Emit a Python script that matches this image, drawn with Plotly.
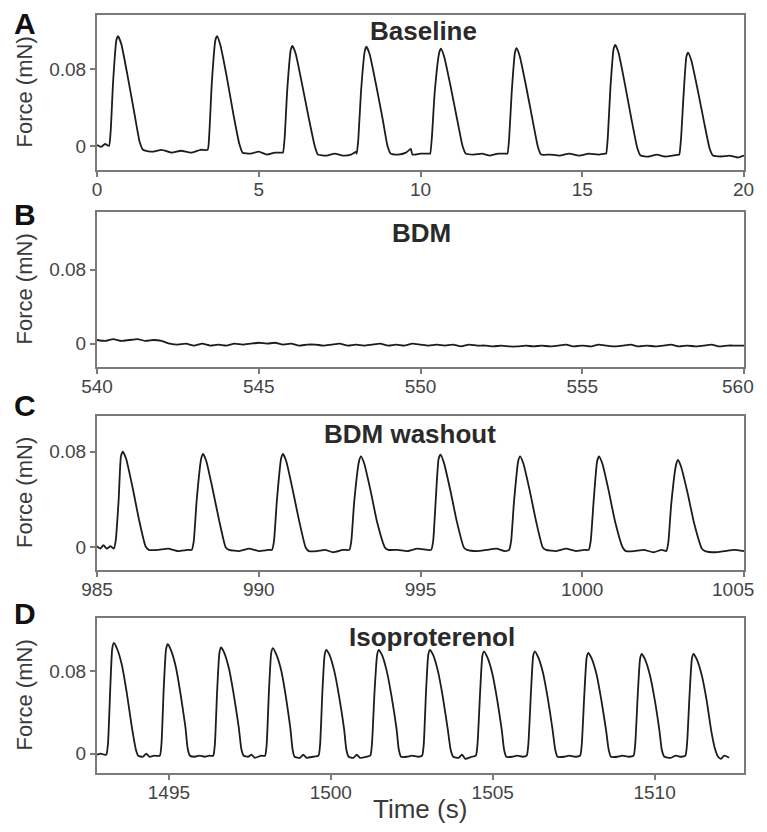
import plotly.graph_objects as go

# ================= Data (time in s, force in mN) =================
# Panel A - Baseline
a_pts = [
    (0.00, 0.001), (0.12, -0.001), (0.25, 0.002),
    (0.37, 0.000), (0.42, 0.014), (0.50, 0.068), (0.60, 0.110), (0.65, 0.114), (0.75, 0.106), (0.95, 0.072), (1.15, 0.035), (1.32, 0.004), (1.42, -0.004),
    (1.70, -0.006), (2.00, -0.004), (2.30, -0.007), (2.60, -0.005), (2.90, -0.007), (3.20, -0.004),
    (3.42, -0.004), (3.47, 0.012), (3.55, 0.066), (3.66, 0.110), (3.71, 0.114), (3.81, 0.105), (4.01, 0.072), (4.21, 0.034), (4.40, 0.002), (4.50, -0.007),
    (4.75, -0.008), (5.00, -0.006), (5.25, -0.009), (5.50, -0.007), (5.73, -0.007),
    (5.75, -0.007), (5.80, 0.008), (5.88, 0.058), (5.99, 0.100), (6.04, 0.104), (6.14, 0.096), (6.34, 0.064), (6.54, 0.030), (6.73, 0.000), (6.83, -0.009),
    (7.10, -0.010), (7.35, -0.008), (7.60, -0.010), (7.85, -0.009), (8.01, -0.006),
    (8.03, -0.008), (8.08, 0.008), (8.16, 0.056), (8.28, 0.099), (8.33, 0.103), (8.43, 0.095), (8.63, 0.063), (8.83, 0.028), (8.98, 0.000), (9.08, -0.008),
    (9.30, -0.009), (9.55, -0.007), (9.70, -0.003), (9.75, -0.009), (10.00, -0.008), (10.28, -0.008),
    (10.30, -0.008), (10.35, 0.008), (10.44, 0.056), (10.58, 0.097), (10.63, 0.101), (10.73, 0.093), (10.93, 0.062), (11.13, 0.028), (11.30, 0.000), (11.40, -0.008),
    (11.65, -0.009), (11.90, -0.008), (12.15, -0.010), (12.40, -0.008), (12.67, -0.008),
    (12.69, -0.008), (12.74, 0.008), (12.82, 0.056), (12.92, 0.097), (12.97, 0.1015), (13.07, 0.093), (13.27, 0.061), (13.47, 0.026), (13.63, -0.001), (13.73, -0.009),
    (14.00, -0.009), (14.30, -0.010), (14.60, -0.008), (14.90, -0.010), (15.20, -0.008), (15.50, -0.009), (15.72, -0.008),
    (15.74, -0.008), (15.79, 0.009), (15.87, 0.060), (15.97, 0.101), (16.02, 0.105), (16.12, 0.097), (16.32, 0.064), (16.52, 0.028), (16.70, -0.002), (16.80, -0.010),
    (17.05, -0.011), (17.30, -0.009), (17.55, -0.011), (17.80, -0.010), (17.98, -0.009),
    (18.00, -0.009), (18.05, 0.006), (18.13, 0.052), (18.22, 0.093), (18.27, 0.097), (18.37, 0.089), (18.57, 0.058), (18.77, 0.024), (18.94, -0.003), (19.04, -0.010),
    (19.30, -0.011), (19.55, -0.010), (19.80, -0.012), (20.00, -0.010),
]

# Panel B - BDM (flat, noisy)
b_time = [
    540.0, 540.25, 540.5, 540.75, 541.0, 541.25, 541.5, 541.75, 542.0, 542.25,
    542.5, 542.75, 543.0, 543.25, 543.5, 543.75, 544.0, 544.25, 544.5, 544.75,
    545.0, 545.25, 545.5, 545.75, 546.0, 546.25, 546.5, 546.75, 547.0, 547.25,
    547.5, 547.75, 548.0, 548.25, 548.5, 548.75, 549.0, 549.25, 549.5, 549.75,
    550.0, 550.25, 550.5, 550.75, 551.0, 551.25, 551.5, 551.75, 552.0, 552.25,
    552.5, 552.75, 553.0, 553.25, 553.5, 553.75, 554.0, 554.25, 554.5, 554.75,
    555.0, 555.25, 555.5, 555.75, 556.0, 556.25, 556.5, 556.75, 557.0, 557.25,
    557.5, 557.75, 558.0, 558.25, 558.5, 558.75, 559.0, 559.25, 559.5, 559.75,
    560.0,
]
b_force = [
    0.004, 0.003, 0.005, 0.003, 0.004, 0.005, 0.003, 0.004, 0.003, 0.000,
    -0.001, 0.000, -0.002, 0.000, -0.002, -0.001, -0.002, 0.000, -0.001, 0.000,
    0.001, 0.000, 0.001, -0.001, 0.000, -0.002, -0.001, -0.001, -0.002, -0.001,
    0.000, -0.002, -0.001, -0.002, -0.001, 0.000, -0.002, -0.001, -0.002, 0.000,
    -0.001, -0.002, -0.001, -0.002, -0.001, -0.003, -0.001, -0.002, -0.002, -0.003,
    -0.002, -0.003, -0.003, -0.002, -0.003, -0.002, -0.003, -0.002, -0.001, -0.003,
    -0.002, -0.003, -0.001, -0.002, -0.003, -0.002, -0.001, -0.003, -0.002, -0.003,
    -0.002, -0.001, -0.003, -0.002, -0.003, -0.002, -0.001, -0.003, -0.002, -0.002,
    -0.002,
]

# Panel C - BDM washout
c_pts = [
    (985.00, 0.001), (985.10, -0.001), (985.20, 0.002), (985.30, -0.001), (985.42, 0.001),
    (985.52, -0.001), (985.58, 0.006), (985.67, 0.040), (985.74, 0.076), (985.80, 0.080), (985.90, 0.074), (986.10, 0.050), (986.30, 0.023), (986.50, 0.001), (986.60, -0.002),
    (986.90, -0.002), (987.20, -0.001), (987.50, -0.003), (987.80, -0.002),
    (987.93, -0.002), (987.99, 0.005), (988.08, 0.039), (988.22, 0.074), (988.28, 0.078), (988.38, 0.072), (988.58, 0.048), (988.78, 0.022), (988.98, 0.000), (989.08, -0.002),
    (989.40, -0.003), (989.70, -0.001), (990.00, -0.003), (990.30, -0.002),
    (990.41, -0.002), (990.47, 0.005), (990.56, 0.039), (990.69, 0.074), (990.75, 0.078), (990.85, 0.072), (991.05, 0.048), (991.25, 0.022), (991.45, 0.000), (991.55, -0.003),
    (991.80, -0.003), (992.05, -0.002), (992.30, -0.004), (992.60, -0.002),
    (992.80, -0.002), (992.86, 0.005), (992.95, 0.038), (993.10, 0.072), (993.16, 0.076), (993.26, 0.070), (993.46, 0.047), (993.66, 0.021), (993.90, 0.000), (994.00, -0.002),
    (994.30, -0.002), (994.60, -0.003), (994.90, -0.001), (995.20, -0.002),
    (995.33, -0.002), (995.39, 0.005), (995.47, 0.039), (995.56, 0.074), (995.62, 0.0775), (995.72, 0.071), (995.92, 0.048), (996.12, 0.022), (996.34, 0.000), (996.44, -0.002),
    (996.75, -0.003), (997.05, -0.002), (997.35, -0.001), (997.60, -0.003),
    (997.74, -0.002), (997.80, 0.005), (997.89, 0.038), (998.02, 0.072), (998.08, 0.076), (998.18, 0.070), (998.38, 0.047), (998.58, 0.021), (998.78, 0.000), (998.88, -0.002),
    (999.20, -0.003), (999.50, -0.001), (999.80, -0.003), (1000.05, -0.002),
    (1000.20, -0.002), (1000.26, 0.005), (1000.35, 0.038), (1000.46, 0.072), (1000.52, 0.076), (1000.62, 0.070), (1000.82, 0.047), (1001.02, 0.021), (1001.25, 0.000), (1001.35, -0.003),
    (1001.60, -0.003), (1001.90, -0.002), (1002.20, -0.004), (1002.45, -0.002),
    (1002.60, -0.003), (1002.66, 0.004), (1002.75, 0.036), (1002.90, 0.069), (1002.96, 0.073), (1003.06, 0.067), (1003.26, 0.045), (1003.46, 0.020), (1003.70, -0.001), (1003.80, -0.003),
    (1004.10, -0.004), (1004.40, -0.003), (1004.70, -0.002), (1005.00, -0.003),
]

# Panel D - Isoproterenol
d_pts = [
    (1492.78, -0.001), (1492.90, 0.000), (1493.00, -0.001),
    (1493.07, -0.001), (1493.12, 0.010), (1493.19, 0.064), (1493.25, 0.102), (1493.30, 0.1076), (1493.40, 0.102), (1493.55, 0.086), (1493.70, 0.059), (1493.85, 0.027), (1493.98, 0.004), (1494.05, -0.002),
    (1494.20, -0.003), (1494.30, 0.000), (1494.40, -0.003), (1494.55, -0.002),
    (1494.72, -0.002), (1494.77, 0.009), (1494.84, 0.063), (1494.91, 0.101), (1494.96, 0.1066), (1495.06, 0.101), (1495.21, 0.085), (1495.36, 0.058), (1495.51, 0.026), (1495.58, 0.005), (1495.65, -0.002),
    (1495.80, -0.003), (1495.95, -0.002), (1496.10, -0.003), (1496.25, -0.002),
    (1496.37, -0.002), (1496.42, 0.009), (1496.49, 0.061), (1496.56, 0.098), (1496.61, 0.1033), (1496.71, 0.098), (1496.86, 0.082), (1497.01, 0.056), (1497.16, 0.025), (1497.24, 0.004), (1497.31, -0.002),
    (1497.45, -0.003), (1497.55, -0.001), (1497.65, -0.004), (1497.85, -0.002),
    (1497.97, -0.002), (1498.02, 0.009), (1498.09, 0.061), (1498.16, 0.098), (1498.21, 0.1027), (1498.31, 0.097), (1498.46, 0.082), (1498.61, 0.056), (1498.75, 0.025), (1498.82, 0.004), (1498.88, -0.003),
    (1499.05, -0.004), (1499.15, -0.001), (1499.25, -0.004), (1499.45, -0.003),
    (1499.62, -0.002), (1499.67, 0.009), (1499.74, 0.060), (1499.81, 0.096), (1499.86, 0.101), (1499.96, 0.096), (1500.11, 0.080), (1500.26, 0.055), (1500.41, 0.024), (1500.48, 0.004), (1500.55, -0.003),
    (1500.70, -0.004), (1500.80, -0.001), (1500.90, -0.004), (1501.10, -0.003),
    (1501.22, -0.002), (1501.27, 0.009), (1501.35, 0.060), (1501.43, 0.096), (1501.48, 0.101), (1501.58, 0.096), (1501.73, 0.080), (1501.88, 0.055), (1502.03, 0.024), (1502.10, 0.004), (1502.17, -0.003),
    (1502.35, -0.003), (1502.50, -0.002), (1502.70, -0.003),
    (1502.82, -0.002), (1502.87, 0.009), (1502.94, 0.060), (1503.01, 0.096), (1503.06, 0.101), (1503.16, 0.096), (1503.31, 0.080), (1503.46, 0.055), (1503.61, 0.024), (1503.70, 0.004), (1503.78, -0.003),
    (1503.95, -0.004), (1504.05, -0.001), (1504.15, -0.005), (1504.35, -0.003),
    (1504.48, -0.002), (1504.53, 0.009), (1504.61, 0.059), (1504.68, 0.095), (1504.73, 0.0995), (1504.83, 0.094), (1504.98, 0.079), (1505.13, 0.054), (1505.28, 0.023), (1505.35, 0.004), (1505.42, -0.003),
    (1505.60, -0.003), (1505.75, -0.002), (1505.92, -0.003),
    (1506.05, -0.002), (1506.10, 0.009), (1506.18, 0.059), (1506.25, 0.095), (1506.30, 0.0995), (1506.40, 0.094), (1506.55, 0.079), (1506.70, 0.054), (1506.85, 0.023), (1506.93, 0.004), (1507.00, -0.003),
    (1507.20, -0.003), (1507.35, -0.002), (1507.55, -0.003),
    (1507.70, -0.002), (1507.75, 0.009), (1507.83, 0.058), (1507.90, 0.093), (1507.95, 0.098), (1508.05, 0.093), (1508.20, 0.078), (1508.35, 0.053), (1508.50, 0.023), (1508.58, 0.004), (1508.65, -0.003),
    (1508.85, -0.003), (1509.00, -0.002), (1509.20, -0.003),
    (1509.35, -0.002), (1509.40, 0.009), (1509.48, 0.058), (1509.55, 0.092), (1509.60, 0.097), (1509.70, 0.092), (1509.85, 0.077), (1510.00, 0.053), (1510.15, 0.022), (1510.22, 0.004), (1510.30, -0.003),
    (1510.50, -0.004), (1510.65, -0.002), (1510.82, -0.003),
    (1510.95, -0.002), (1511.00, 0.009), (1511.08, 0.058), (1511.15, 0.092), (1511.20, 0.097), (1511.30, 0.092), (1511.45, 0.077), (1511.60, 0.053), (1511.75, 0.022), (1511.87, 0.004), (1511.96, -0.003),
    (1512.05, -0.005), (1512.15, -0.002), (1512.30, -0.004),
]

panel_letters = ["A", "B", "C", "D"]
panel_titles = ["Baseline", "BDM", "BDM washout", "Isoproterenol"]
x_ranges = [[0, 20], [540, 560], [985, 1005], [1492.78, 1512.76]]
y_ranges = [[-0.025, 0.136], [-0.0252, 0.1424], [-0.0188, 0.1097], [-0.0188, 0.1319]]
x_ticks = [[0, 5, 10, 15, 20], [540, 545, 550, 555, 560],
           [985, 990, 995, 1000, 1005], [1495, 1500, 1505, 1510]]
y_ticks = [0, 0.08]
y_ticktext = ["0", "0.08"]

# ================= Figure =================
# page body has an 8px margin, so the figure is drawn 8px in from the corner;
# keep the page height inside the window so no scrollbar eats the right edge
OFF = 8
W, H = 767 - OFF, 832 - 2 * OFF
FONT = "Liberation Sans, Arial, sans-serif"
BOX = "#7a7a7a"


def px(x):
    return (x - OFF) / W


def py(y):
    return 1 - (y - OFF) / H


# pixel positions of each panel box (top, bottom) in the reference
boxes = [(15, 170), (212, 367), (416, 570), (618, 773)]
x_dom = [px(97), px(744)]

a_t, a_f = zip(*a_pts)
c_t, c_f = zip(*c_pts)
d_t, d_f = zip(*d_pts)
series = [(a_t, a_f), (b_time, b_force), (c_t, c_f), (d_t, d_f)]

fig = go.Figure()
layout = dict(
    width=W, height=H,
    margin=dict(l=0, r=0, t=0, b=0),
    paper_bgcolor="white", plot_bgcolor="white",
    showlegend=False,
    font=dict(family=FONT, color="#3a3a3a"),
)

annotations = []
for i in range(4):
    n = "" if i == 0 else str(i + 1)
    top, bot = boxes[i]
    tx, ty = series[i]
    fig.add_trace(go.Scatter(
        x=list(tx), y=list(ty), mode="lines",
        line=dict(color="#1c1c1c", width=1.8, shape="spline", smoothing=0.5),
        xaxis="x" + n, yaxis="y" + n, hoverinfo="skip",
    ))
    # the label of a tick sitting on the right edge is drawn as an annotation,
    # pulled in a little so it is not cut by the visible page edge
    ticktext = [str(v) for v in x_ticks[i]]
    last = x_ticks[i][-1]
    if last == x_ranges[i][1]:
        ticktext[-1] = ""
        annotations.append(dict(
            text=str(last), x=last, xref="x" + n, y=py(bot + 7), yref="paper",
            xanchor="right", yanchor="top", xshift=12, showarrow=False,
            font=dict(size=19, color="#444", family=FONT),
        ))
    layout["xaxis" + n] = dict(
        domain=x_dom, anchor="y" + n, range=x_ranges[i], automargin=False,
        tickmode="array", tickvals=x_ticks[i], ticktext=ticktext,
        ticklabeloverflow="allow", ticklabelstandoff=-4,
        showline=True, mirror=True, linecolor=BOX, linewidth=2,
        ticks="outside", ticklen=5, tickwidth=1.5, tickcolor=BOX,
        tickfont=dict(size=19, color="#444", family=FONT),
        showgrid=False, zeroline=False,
    )
    layout["yaxis" + n] = dict(
        domain=[py(bot), py(top)], anchor="x" + n, range=y_ranges[i], automargin=False,
        tickmode="array", tickvals=y_ticks, ticktext=y_ticktext,
        showline=True, mirror=True, linecolor=BOX, linewidth=2,
        ticks="outside", ticklen=5, tickwidth=1.5, tickcolor=BOX,
        tickfont=dict(size=19, color="#444", family=FONT),
        showgrid=False, zeroline=False,
    )
    mid = (top + bot) / 2
    annotations.append(dict(
        text="Force (mN)", textangle=-90, x=px(24), y=py(mid),
        xref="paper", yref="paper", showarrow=False,
        xanchor="center", yanchor="middle",
        font=dict(size=22, color="#3a3a3a", family=FONT),
    ))

letter_y = [None, 214, 405, 613]
for i, L in enumerate(panel_letters):
    ann = dict(
        text="<b>%s</b>" % L, x=px(25),
        xref="paper", yref="paper", showarrow=False, xanchor="center",
        font=dict(size=30, color="#111", family=FONT),
    )
    if letter_y[i] is None:
        # top letter sits right against the top of the page
        ann.update(y=1, yanchor="top", yshift=3)
    else:
        ann.update(y=py(letter_y[i]), yanchor="middle")
    annotations.append(ann)

title_pos = [(423, 31), (422, 233), (410, 434), (432, 637)]
for i, T in enumerate(panel_titles):
    annotations.append(dict(
        text="<b>%s</b>" % T, x=px(title_pos[i][0]), y=py(title_pos[i][1]),
        xref="paper", yref="paper", showarrow=False,
        xanchor="center", yanchor="middle",
        font=dict(size=26, color="#2a2a2a", family=FONT),
    ))

annotations.append(dict(
    text="Time (s)", x=px(420), y=0, yanchor="bottom", yshift=-2,
    xref="paper", yref="paper", showarrow=False, xanchor="center",
    font=dict(size=26, color="#3a3a3a", family=FONT),
))

layout["annotations"] = annotations
fig.update_layout(**layout)

fig.write_html("out.html")
